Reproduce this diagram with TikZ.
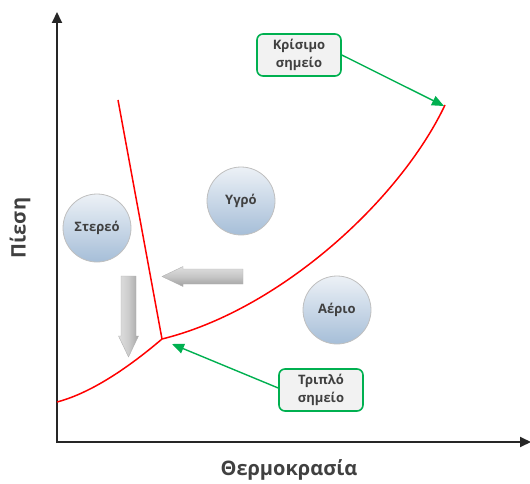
\documentclass[tikz,border=0pt]{standalone}
\usepackage{fontspec}
\setmainfont{Open Sans}
\usetikzlibrary{arrows.meta}
\definecolor{txt}{RGB}{64,64,64}
\definecolor{callgreen}{RGB}{0,176,80}
\definecolor{boxfill}{RGB}{242,242,242}
\definecolor{phasetop}{RGB}{236,241,246}
\definecolor{phasebot}{RGB}{166,190,216}
\tikzset{
  axis/.style={line width=2pt, black!85, -{Triangle[length=11pt,width=10pt]}},
  boundary/.style={red, line width=1.5pt},
  phase/.style={circle, minimum size=68pt, draw=gray!50, line width=0.8pt,
    top color=phasetop, bottom color=phasebot, text=txt,
    font=\bfseries\fontsize{13}{15}\selectfont},
  callout/.style={draw=callgreen, line width=1.6pt, rounded corners=6pt, fill=boxfill,
    minimum width=84pt, minimum height=42pt, inner sep=2pt, align=center, text=txt,
    font=\bfseries\fontsize{13}{18}\selectfont},
  pointer/.style={callgreen, line width=1.4pt, -{Triangle[length=12pt,width=10pt]}},
  axislabel/.style={text=txt, font=\bfseries\fontsize{20}{24}\selectfont},
  grayarrow/.style={draw=gray!60, line width=0.4pt}
}
\begin{document}
\begin{tikzpicture}[x=1pt,y=-1pt]
\useasboundingbox (0,0) rectangle (530,484);

% axes
\coordinate (origin) at (57,442);
\coordinate (ytip) at (57,12);
\coordinate (xtip) at (531,442);
\draw[axis] (origin |- 0,443) -- (ytip);
\draw[axis] (56,442) -- (xtip);

\node[axislabel, rotate=90] (ylabel) at (20,228) {Πίεση};
\node[axislabel] (xlabel) at (289,470) {Θερμοκρασία};

% phase boundaries
\coordinate (subl) at (57,402);
\coordinate (tp) at (162,339);
\coordinate (melt) at (118,100);
\coordinate (cp) at (445,105);
\draw[boundary] (subl) .. controls (95,392) and (135,362) .. (tp);
\draw[boundary] (melt) -- (tp);
\draw[boundary] (tp) .. controls (280,310) and (400,200) .. (cp);

% phase regions
\node[phase] (solid) at (97,228) {Στερεό};
\node[phase] (liquid) at (241,201) {Υγρό};
\node[phase] (gas) at (337,310) {Αέριο};

% shaded arrows
\shade[grayarrow, top color=gray!25, bottom color=gray!75, middle color=gray!45]
  (243,269) -- (183,269) -- (183,266.5) -- (162,276.5) -- (183,286.5) -- (183,284) -- (243,284) -- cycle;
\shade[grayarrow, left color=gray!25, right color=gray!70, middle color=gray!40]
  (121,276) -- (136,276) -- (136,336) -- (138.5,336) -- (128.5,357) -- (118.5,336) -- (121,336) -- cycle;

% callouts
\node[callout] (crit) at (299,55) {Κρίσιμο\\σημείο};
\node[callout] (triple) at (321,390) {Τριπλό\\σημείο};
\coordinate (cparrow) at (444,106);
\coordinate (tparrow) at (172,344);
\draw[pointer] (crit.east) -- (cparrow);
\draw[pointer] (triple.west |- 0,388) -- (tparrow);
\end{tikzpicture}
\end{document}
